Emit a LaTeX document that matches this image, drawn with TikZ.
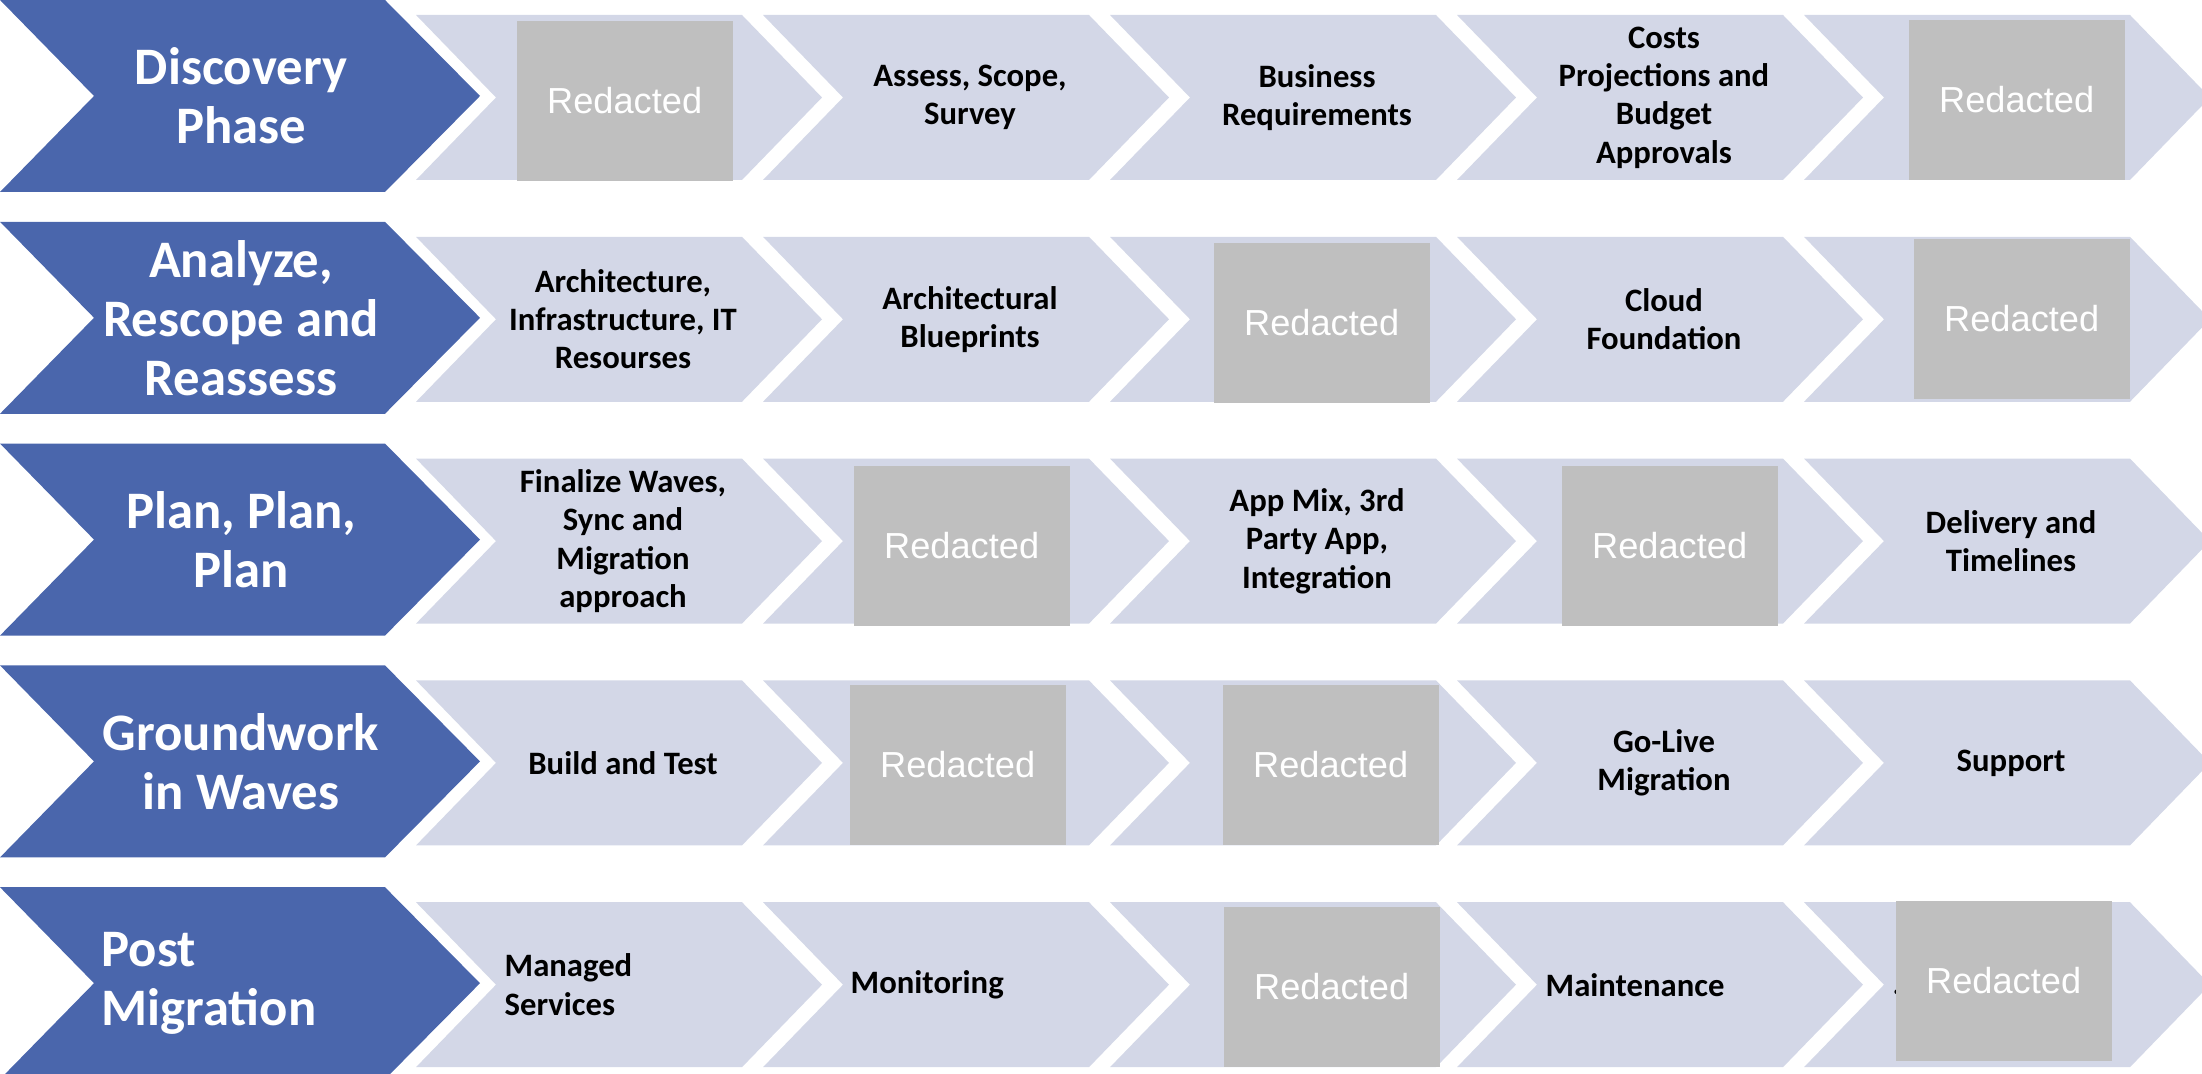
\documentclass[tikz,border=0pt]{standalone}
\usepackage{fontspec}
\setmainfont{Carlito}
\newfontfamily\redfont{Liberation Sans}
\usepackage{tikz}
\usetikzlibrary{positioning}
\definecolor{phaseblue}{HTML}{4A66AC}
\definecolor{steplight}{HTML}{D3D7E7}
\definecolor{redgray}{HTML}{BFBFBF}
\tikzset{
    phase/.style={text=white, font=\bfseries\fontsize{15}{16.8}\selectfont, align=center, inner sep=0pt},
    task/.style={text=black, font=\bfseries\fontsize{9.3}{10.9}\selectfont, align=center, inner sep=0pt},
    redbox/.style={fill=redgray, anchor=north west, minimum width=21.6mm, minimum height=16mm, inner sep=0pt,
        text=white, font=\redfont\fontsize{10.3}{12}\selectfont}
}

\begin{document}
\begin{tikzpicture}[x=0.1mm,y=-0.1mm]
        \useasboundingbox (0,0) rectangle (2202,1074);
        \foreach \r in {0,...,4}{
            \pgfmathsetmacro{\t}{221.8*\r}
            \fill[phaseblue] (0,\t) -- ++(385,0) -- ++(95,96) -- ++(-95,96) -- ++(-385,0) -- ++(94,-96) -- cycle;
            \foreach \c in {0,...,4}{
                \pgfmathsetmacro{\l}{416+347*\c}
                \fill[steplight] (\l,\t+15) -- ++(326,0) -- ++(80,82.5) -- ++(-80,82.5) -- ++(-326,0) -- ++(80,-82.5) -- cycle;
            }
        }
        \node[phase] (discovery) at (241,96) {Discovery\\Phase};
        \node[phase] (analyze) at (241,317.8) {Analyze,\\Rescope and\\Reassess};
        \node[phase] (plan) at (241,539.6) {Plan, Plan,\\Plan};
        \node[phase] (groundwork) at (241,761.4) {Groundwork\\in Waves};
        \node[phase, anchor=west, align=left] (post) at (101,983.2) {Post\\Migration};

        \node[task] (assess) at (970,97.5) {Assess, Scope,\\Survey};
        \node[task] (business) at (1317,97.5) {Business\\Requirements};
        \node[task] (costs) at (1664,97.5) {Costs\\Projections and\\Budget\\Approvals};
        \node[task] (archit) at (623,319.3) {Architecture,\\Infrastructure, IT\\Resourses};
        \node[task] (blueprints) at (970,319.3) {Architectural\\Blueprints};
        \node[task] (cloud) at (1664,319.3) {Cloud\\Foundation};
        \node[task] (finalize) at (623,541.1) {Finalize Waves,\\Sync and\\Migration\\approach};
        \node[task] (appmix) at (1317,541.1) {App Mix, 3rd\\Party App,\\Integration};
        \node[task] (delivery) at (2011,541.1) {Delivery and\\Timelines};
        \node[task] (build) at (623,762.9) {Build and Test};
        \node[task] (golive) at (1664,762.9) {Go-Live\\Migration};
        \node[task] (support) at (2011,762.9) {Support};
        \node[task, anchor=west, align=left] (managed) at (504,984.7) {Managed\\Services};
        \node[task, anchor=west] (monitoring) at (850,984.7) {Monitoring};
        \node[task, anchor=west] (maintenance) at (1545,984.7) {Maintenance};
        \node[task, anchor=base west] (hidden) at (1892,995) {.};

        \node[redbox] (red11) at (516,20) {Redacted};
        \node[redbox] (red15) at (1908,19) {Redacted};
        \node[redbox] (red23) at (1213,242) {Redacted};
        \node[redbox] (red25) at (1913,238) {Redacted};
        \node[redbox] (red32) at (853,465) {Redacted};
        \node[redbox] (red34) at (1561,465) {Redacted};
        \node[redbox] (red42) at (849,684) {Redacted};
        \node[redbox] (red43) at (1222,684) {Redacted};
        \node[redbox] (red53) at (1223,906) {Redacted};
        \node[redbox] (red55) at (1895,900) {Redacted};
\end{tikzpicture}
\end{document}
